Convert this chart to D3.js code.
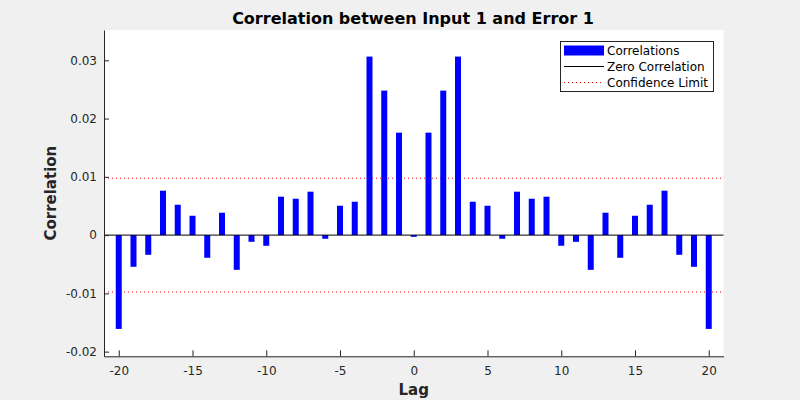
<!DOCTYPE html>
<html><head><meta charset="utf-8">
<script src="https://cdn.jsdelivr.net/npm/d3@7"></script>
<style>
body{margin:0;background:#f0f0f0;}
svg{display:block;font-family:"DejaVu Sans",sans-serif;}
</style></head>
<body><svg id="c" width="800" height="400"></svg>
<script>
const lags = d3.range(-20, 21);
const correlations = [-0.0161,-0.00544,-0.00338,0.00762,0.00521,0.00332,-0.00389,0.00384,-0.00596,-0.00115,-0.00183,0.00659,0.00624,0.00745,-0.00063,0.00504,0.00573,0.03064,0.0248,0.01758,-0.0003,0.01758,0.0248,0.03064,0.00573,0.00504,-0.00063,0.00745,0.00624,0.00659,-0.00183,-0.00115,-0.00596,0.00384,-0.00389,0.00332,0.00521,0.00762,-0.00338,-0.00544,-0.0161];
const confidenceLimit = 0.00976;
const xTicks = [-20,-15,-10,-5,0,5,10,15,20];
const xTickLabels = ["-20","-15","-10","-5","0","5","10","15","20"];
const yTicks = [-0.02,-0.01,0,0.01,0.02,0.03];
const yTickLabels = ["-0.02","-0.01","0","0.01","0.02","0.03"];
const legendLabels = ["Correlations","Zero Correlation","Confidence Limit"];

const svg = d3.select("#c");
const L=104, R=723.5, T=30, B=356.3;
const x = d3.scaleLinear().domain([-21,21]).range([L,R]);
const y = d3.scaleLinear().domain([-0.0208,0.0352]).range([B,T]);

svg.append("rect").attr("x",L).attr("y",T).attr("width",R-L).attr("height",B-T).attr("fill","#fff");

// confidence lines
[confidenceLimit,-confidenceLimit].forEach(v=>{
  svg.append("line").attr("x1",L).attr("x2",R).attr("y1",y(v)).attr("y2",y(v))
    .attr("stroke","#ff0000").attr("stroke-width",1).attr("stroke-dasharray","1,3");
});

// bars
const bw = 6;
svg.append("g").selectAll("rect").data(lags).join("rect")
  .attr("x",(d)=>x(d)-bw/2)
  .attr("width",bw)
  .attr("y",(d,i)=>y(Math.max(0,correlations[i])))
  .attr("height",(d,i)=>Math.abs(y(correlations[i])-y(0)))
  .attr("fill","#0000ff");

// zero line
svg.append("line").attr("x1",L).attr("x2",R).attr("y1",y(0)).attr("y2",y(0))
  .attr("stroke","#000").attr("stroke-width",1);

// axes
const xAxis = d3.axisBottom(x).tickValues(xTicks).tickFormat((d,i)=>xTickLabels[i]).tickSizeInner(-6).tickSizeOuter(0).tickPadding(10);
const gx = svg.append("g").attr("transform",`translate(0,${B})`).call(xAxis);
const yAxis = d3.axisLeft(y).tickValues(yTicks).tickFormat((d,i)=>yTickLabels[i]).tickSizeInner(-5).tickSizeOuter(0).tickPadding(7);
const gy = svg.append("g").attr("transform",`translate(${L},0)`).call(yAxis);
[gx,gy].forEach(g=>{
  g.selectAll("text").attr("font-size",12).attr("fill","#262626").attr("font-family","DejaVu Sans, sans-serif");
  g.selectAll("line").attr("stroke","#262626");
  g.select(".domain").attr("stroke","#262626");
});
gx.selectAll("text").attr("dy","0.71em");

// titles
svg.append("text").attr("x",413).attr("y",23.5).attr("text-anchor","middle")
  .attr("font-weight","bold").attr("font-size",16).attr("fill","#000")
  .text("Correlation between Input 1 and Error 1");
svg.append("text").attr("x",(L+R)/2).attr("y",395).attr("text-anchor","middle")
  .attr("font-weight","bold").attr("font-size",15).attr("fill","#262626").text("Lag");
svg.append("text").attr("transform",`translate(56,${(T+B)/2}) rotate(-90)`).attr("text-anchor","middle")
  .attr("font-weight","bold").attr("font-size",15).attr("fill","#262626").text("Correlation");

// legend
const lg = svg.append("g");
lg.append("rect").attr("x",560.5).attr("y",41.5).attr("width",153).attr("height",50)
  .attr("fill","#fff").attr("stroke","#262626").attr("stroke-width",1);
const rows = [50.5,66.5,82.5];
lg.append("rect").attr("x",564).attr("y",rows[0]-5).attr("width",40).attr("height",10).attr("fill","#0000ff");
lg.append("line").attr("x1",564).attr("x2",604).attr("y1",rows[1]).attr("y2",rows[1]).attr("stroke","#000");
lg.append("line").attr("x1",564).attr("x2",604).attr("y1",rows[2]).attr("y2",rows[2]).attr("stroke","#ff0000").attr("stroke-dasharray","1,3");
legendLabels.forEach((t,i)=>{
  lg.append("text").attr("x",607).attr("y",rows[i]).attr("dy","0.35em").attr("font-size",12).attr("fill","#000").text(t);
});
</script></body></html>
